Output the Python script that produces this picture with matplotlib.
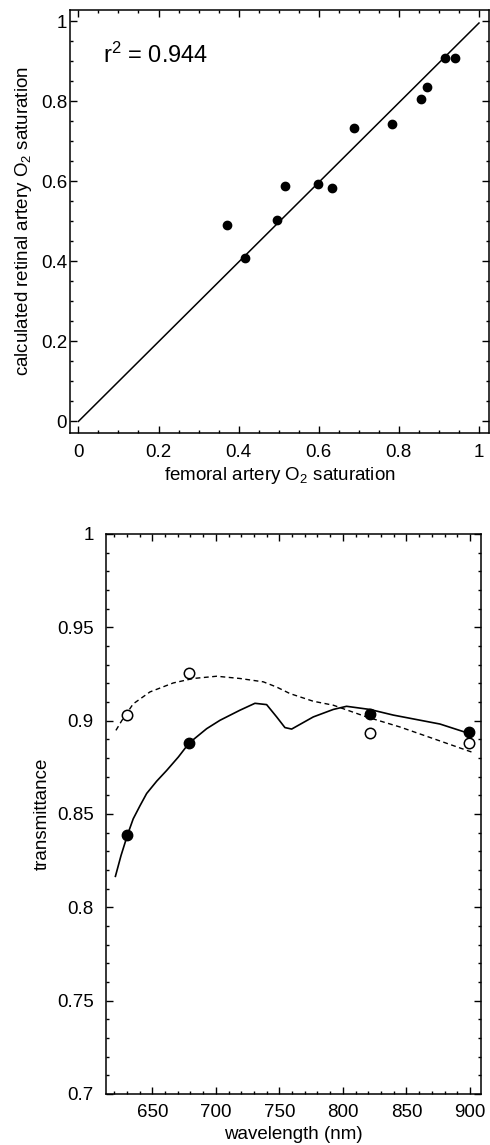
import matplotlib
matplotlib.use("Agg")
import matplotlib.pyplot as plt
from matplotlib.ticker import MultipleLocator, FixedLocator

plt.rcParams['font.family'] = ['Liberation Sans', 'DejaVu Sans']
plt.rcParams['mathtext.fontset'] = 'custom'
plt.rcParams['mathtext.rm'] = 'Liberation Sans'
plt.rcParams['mathtext.it'] = 'Liberation Sans'

# --- oxygen saturation comparison ---
femoral_sat = [0.370, 0.415, 0.495, 0.515, 0.598, 0.633, 0.689, 0.784, 0.855, 0.870, 0.915, 0.940]
retinal_sat = [0.490, 0.408, 0.504, 0.588, 0.593, 0.583, 0.733, 0.743, 0.805, 0.835, 0.907, 0.907]
fit_x = [0.0, 1.0]
fit_y = [0.0, 0.995]
r_squared = 0.944

# --- transmittance spectra ---
wl_solid = [621, 625.4, 630.6, 635, 640.4, 645.6, 653.5, 661.3, 670.5, 679, 692.8, 703.3,
            719, 730.8, 740, 747.9, 754.4, 759.7, 776.7, 792.4, 802.9, 821.3, 839.6, 876.4, 900]
tr_solid = [0.8166, 0.8277, 0.839, 0.8474, 0.8545, 0.861, 0.8676, 0.8733, 0.8805, 0.888,
            0.8957, 0.9002, 0.9056, 0.9093, 0.9086, 0.902, 0.8963, 0.8955, 0.902, 0.906,
            0.9077, 0.906, 0.903, 0.8982, 0.893]
wl_dashed = [621.4, 626, 635, 648.2, 666.5, 682.3, 700.7, 719, 737.4, 747.9, 758.4,
             776.7, 792.4, 818.7, 845, 871.1, 901.3]
tr_dashed = [0.8948, 0.900, 0.909, 0.9154, 0.9202, 0.9226, 0.9238, 0.9226, 0.9208, 0.918,
             0.9145, 0.9104, 0.9083, 0.902, 0.8966, 0.8904, 0.8832]
wl_points = [630.5, 679, 821, 899]
tr_filled = [0.8388, 0.888, 0.9038, 0.8938]
tr_open = [0.9031, 0.9256, 0.8936, 0.8878]

fig = plt.figure(figsize=(4.9, 11.45), dpi=100)

tick_fs = 13.5
label_fs = 13.5


def style_axes(ax):
    for s in ax.spines.values():
        s.set_linewidth(1.1)
    ax.tick_params(which='both', direction='in', top=True, right=True,
                   labelsize=tick_fs, width=1.0)
    ax.tick_params(which='major', length=5)
    ax.tick_params(which='minor', length=2.5)


# top panel
ax1 = fig.add_axes([70 / 490, 1 - 433 / 1145, 419 / 490, 423 / 1145])
ax1.plot(fit_x, fit_y, color='black', lw=1.1)
ax1.plot(femoral_sat, retinal_sat, 'o', color='black', ms=6)
ax1.set_xlim(-0.021, 1.025)
ax1.set_ylim(-0.029, 1.0275)
ax1.xaxis.set_major_locator(FixedLocator([0, 0.2, 0.4, 0.6, 0.8, 1.0]))
ax1.yaxis.set_major_locator(FixedLocator([0, 0.2, 0.4, 0.6, 0.8, 1.0]))
ax1.xaxis.set_minor_locator(MultipleLocator(0.05))
ax1.yaxis.set_minor_locator(MultipleLocator(0.05))
ax1.set_xticklabels(['0', '0.2', '0.4', '0.6', '0.8', '1'])
ax1.set_yticklabels(['0', '0.2', '0.4', '0.6', '0.8', '1'])
style_axes(ax1)
ax1.tick_params(axis='x', which='major', pad=8)
ax1.tick_params(axis='y', which='major', pad=2)
ax1.set_xlabel('femoral artery O$_2$ saturation', fontsize=label_fs, labelpad=3)
ax1.set_ylabel('calculated retinal artery O$_2$ saturation', fontsize=label_fs, labelpad=5)
ax1.text(0.061, 0.895, 'r$^2$ = %.3f' % r_squared, fontsize=17, ha='left', va='baseline')

# bottom panel
ax2 = fig.add_axes([106 / 490, 1 - 1094 / 1145, 375 / 490, 560 / 1145])
ax2.plot(wl_dashed, tr_dashed, color='black', lw=1.0, ls=(0, (3.5, 2.5)))
ax2.plot(wl_solid, tr_solid, color='black', lw=1.2)
ax2.plot(wl_points, tr_open, 'o', mfc='white', mec='black', mew=1.1, ms=7.5)
ax2.plot(wl_points, tr_filled, 'o', color='black', ms=7.5)
ax2.set_xlim(613.6, 908.7)
ax2.set_ylim(0.7, 1.0)
ax2.xaxis.set_major_locator(MultipleLocator(50))
ax2.xaxis.set_minor_locator(MultipleLocator(10))
ax2.yaxis.set_major_locator(FixedLocator([0.7, 0.75, 0.8, 0.85, 0.9, 0.95, 1.0]))
ax2.yaxis.set_minor_locator(MultipleLocator(0.01))
ax2.set_yticklabels(['0.7', '0.75', '0.8', '0.85', '0.9', '0.95', '1'])
style_axes(ax2)
ax2.tick_params(axis='x', which='major', pad=7)
ax2.tick_params(axis='y', which='major', pad=9)
ax2.set_xlabel('wavelength (nm)', fontsize=label_fs, labelpad=4)
ax2.set_ylabel('transmittance', fontsize=label_fs, labelpad=4)

fig.savefig('out.png', dpi=100)
